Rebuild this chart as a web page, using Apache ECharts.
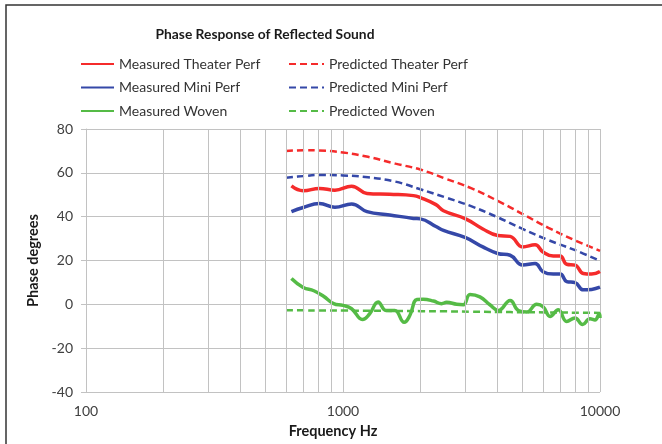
<!DOCTYPE html>
<html>
<head>
<meta charset="utf-8">
<script src="https://cdn.jsdelivr.net/npm/echarts@6/dist/echarts.min.js"></script>
<style>
  html, body { margin: 0; padding: 0; background: #fff; }
  #chart { width: 662px; height: 444px; }
</style>
</head>
<body>
<div id="chart"></div>
<script>
// Frequencies (Hz) for the measured theater / mini perforated panels
const freqMeasured = [630, 700, 810, 930, 1080, 1240, 1520, 1880, 2000, 2300, 2460, 3000, 3500, 4000, 4470, 5000, 5590, 6000, 6580, 7000, 7420, 8000, 8610, 9280, 10000];
const measuredTheater = [54, 51.8, 52.9, 52.1, 53.9, 50.6, 50.2, 49.6, 48.7, 45.5, 42.7, 39, 34.4, 31.4, 31, 26.2, 27.2, 23.9, 22, 22, 18.3, 17.9, 14.1, 13.8, 15];
const measuredMini = [42.3, 44.2, 46, 44.3, 45.8, 42.3, 40.8, 39.2, 39, 35.5, 33.7, 30.4, 26.2, 23.2, 22.4, 17.9, 18.6, 14.9, 13.8, 13.8, 10.4, 9.9, 6.6, 6.8, 7.8];

// Frequencies (Hz) for the measured woven fabric
const freqWoven = [630, 700, 770, 840, 920, 1000, 1080, 1190, 1270, 1370, 1470, 1590, 1730, 1820, 1940, 2050, 2250, 2420, 2530, 2770, 2940, 3120, 3410, 3730, 4020, 4470, 4810, 5190, 5670, 6020, 6390, 6880, 7420, 7990, 8560, 9140, 9560, 9940, 10000];
const measuredWoven = [11.8, 7.7, 6.2, 3.7, 0.3, -0.5, -2, -6.9, -4.3, 1.1, -2.8, -2.8, -8.2, -5.1, 2.2, 2.3, 1.5, 0.3, 0.9, 0, -0.2, 4.5, 3.4, -0.2, -2.8, 1.8, -2.8, -3.5, 0, -1.2, -5.5, -2.5, -7.8, -6.2, -9.2, -6.6, -7.1, -4.3, -6.2];

// Model predictions
const freqPredicted = [600, 700, 800, 1000, 1250, 1600, 2000, 2500, 3150, 4000, 5000, 6300, 8000, 10000];
const predictedTheater = [70, 70.3, 70.2, 69.3, 67.3, 64.2, 61.5, 57.4, 53, 47.2, 41.2, 34.9, 29.2, 24.4];
const predictedMini = [57.8, 58.5, 59, 58.8, 58, 56, 52.5, 48.8, 44.8, 39.7, 34.4, 29.3, 24.7, 19.9];
const predictedWoven = [-2.7, -2.75, -2.8, -2.85, -2.95, -3.0, -3.1, -3.2, -3.35, -3.5, -3.6, -3.7, -3.8, -3.9];

// Axis settings
const xTicks = [100, 1000, 10000];
const minorFreqs = [200, 300, 400, 500, 600, 700, 800, 900, 2000, 3000, 4000, 5000, 6000, 7000, 8000, 9000];
const yMin = -40, yMax = 80, yStep = 20;

const FONT = 'Lato';
const RED = '#f52b2b', BLUE = '#3548a8', GREEN = '#55bb46';
const GRID = '#c2c2c2';

const pairs = (xs, ys) => xs.map((x, i) => [x, ys[i]]);

function solid(name, color, xs, ys) {
  return {
    name, type: 'line', data: pairs(xs, ys), showSymbol: false, symbol: 'none',
    smooth: 0.45, z: 3,
    lineStyle: { color, width: 3.5, type: 'solid' },
    itemStyle: { color }
  };
}
function dashed(name, color, xs, ys) {
  return {
    name, type: 'line', data: pairs(xs, ys), showSymbol: false, symbol: 'none',
    smooth: 0.4, z: 3,
    lineStyle: { color, width: 2.5, type: [7, 4] },
    itemStyle: { color }
  };
}

const chart = echarts.init(document.getElementById('chart'), null, { renderer: 'canvas' });

const legendText = { fontFamily: FONT, fontSize: 14, color: '#333' };
const legendCommon = {
  orient: 'vertical', top: 52, itemHeight: 12, itemGap: 9.5,
  itemStyle: { opacity: 0 },
  textStyle: legendText
};

chart.setOption({
  animation: false,
  backgroundColor: '#fff',
  title: {
    text: 'Phase Response of Reflected Sound',
    left: 260, top: 23, textAlign: 'center',
    textStyle: { fontFamily: FONT, fontSize: 13.8, fontWeight: 'bold', color: '#1a1a1a' }
  },
  legend: [
    Object.assign({
      data: ['Measured Theater Perf', 'Measured Mini Perf', 'Measured Woven'],
      left: 75, itemWidth: 33
    }, legendCommon),
    Object.assign({
      data: ['Predicted Theater Perf', 'Predicted Mini Perf', 'Predicted Woven'],
      left: 283, itemWidth: 35
    }, legendCommon)
  ],
  grid: { left: 86, right: 62, top: 129, bottom: 52 },
  xAxis: {
    type: 'log', logBase: 10, min: xTicks[0], max: xTicks[xTicks.length - 1],
    axisLine: { show: true, lineStyle: { color: GRID, width: 1 } },
    axisTick: { show: false },
    splitLine: { show: true, lineStyle: { color: GRID, width: 1 } },
    axisLabel: { fontFamily: FONT, fontSize: 14, color: '#404040', margin: 12, formatter: v => String(v) },
    name: 'Frequency Hz', nameLocation: 'middle', nameGap: 32,
    nameTextStyle: { fontFamily: FONT, fontSize: 14.5, fontWeight: 'bold', color: '#1a1a1a', padding: [0, 20, 0, 0] }
  },
  yAxis: {
    type: 'value', min: yMin, max: yMax, interval: yStep,
    axisLine: { show: true, lineStyle: { color: GRID, width: 1 } },
    axisTick: { show: true, length: 5, lineStyle: { color: GRID } },
    splitLine: { show: true, lineStyle: { color: GRID, width: 1 } },
    axisLabel: { fontFamily: FONT, fontSize: 14, color: '#404040', margin: 13 },
    name: 'Phase degrees', nameLocation: 'middle', nameGap: 41,
    nameTextStyle: { fontFamily: FONT, fontSize: 14.5, fontWeight: 'bold', color: '#1a1a1a' }
  },
  graphic: [
    {
      type: 'rect', silent: true, z: 100,
      shape: { x: 6, y: 5, width: 720, height: 520 },
      style: { fill: null, stroke: '#333', lineWidth: 1.5 }
    }
  ],
  series: [
    {
      name: 'minor grid', type: 'line', data: [], silent: true, z: 1,
      markLine: {
        silent: true, symbol: 'none', label: { show: false },
        lineStyle: { color: GRID, width: 1, type: 'solid' },
        data: minorFreqs.map(f => ({ xAxis: f }))
      }
    },
    solid('Measured Theater Perf', RED, freqMeasured, measuredTheater),
    solid('Measured Mini Perf', BLUE, freqMeasured, measuredMini),
    solid('Measured Woven', GREEN, freqWoven, measuredWoven),
    dashed('Predicted Theater Perf', RED, freqPredicted, predictedTheater),
    dashed('Predicted Mini Perf', BLUE, freqPredicted, predictedMini),
    dashed('Predicted Woven', GREEN, freqPredicted, predictedWoven)
  ]
});
</script>
</body>
</html>
